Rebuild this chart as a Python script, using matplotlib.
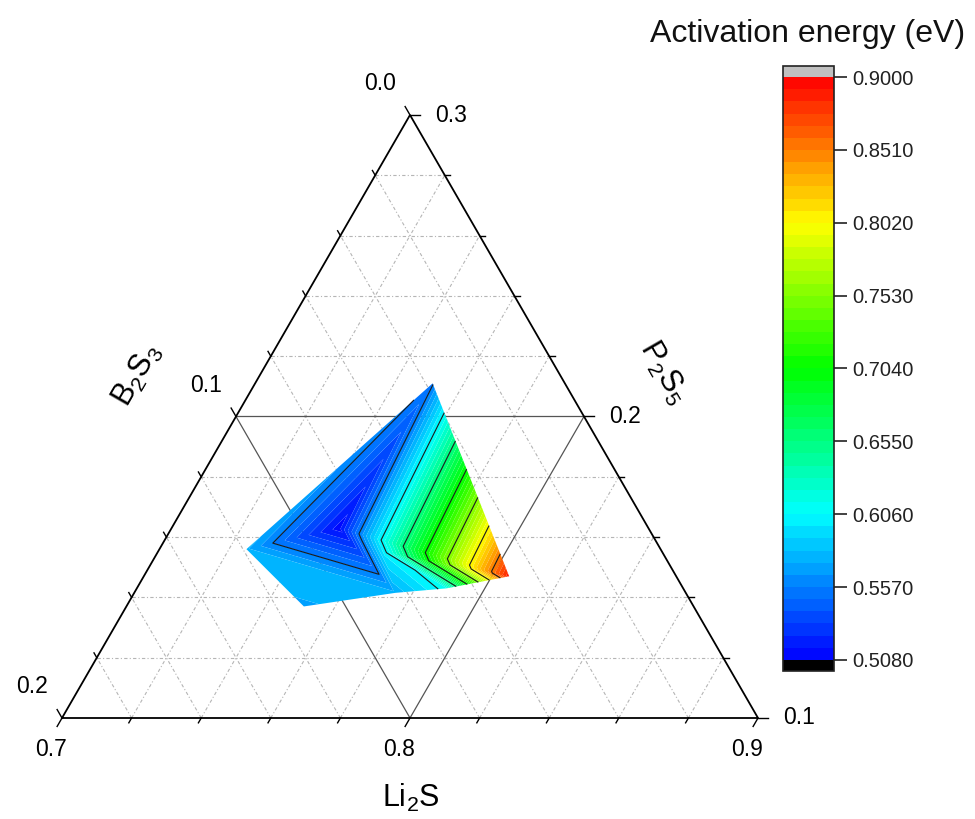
import numpy as np
import matplotlib
matplotlib.use("Agg")
import matplotlib.pyplot as plt
import matplotlib.tri as mtri
from matplotlib.colors import LinearSegmentedColormap

plt.rcParams['font.family'] = ['Liberation Sans', 'DejaVu Sans']
plt.rcParams['mathtext.fontset'] = 'custom'
plt.rcParams['mathtext.rm'] = 'Liberation Sans'
plt.rcParams['mathtext.it'] = 'Liberation Sans:italic'

# ---------------- data ----------------
li2s = [0.751, 0.725, 0.751, 0.775, 0.789, 0.805, 0.748, 0.765]
p2s5 = [0.211, 0.156, 0.137, 0.1415, 0.143, 0.147, 0.163, 0.155]
b2s3 = [round(1 - a - b, 4) for a, b in zip(li2s, p2s5)]
energy = [0.555, 0.575, 0.573, 0.575, 0.612, 0.890, 0.512, 0.600]
mesh = [(0, 1, 6), (0, 6, 5), (1, 6, 3), (1, 2, 3),
        (6, 3, 7), (7, 3, 4), (7, 4, 5), (6, 7, 5)]

li_ticks = [0.7, 0.8, 0.9]
b_ticks = [0.2, 0.1, 0.0]
p_ticks = [0.1, 0.2, 0.3]
cbar_ticks = [0.508, 0.557, 0.606, 0.655, 0.704, 0.753, 0.802, 0.851, 0.900]
vmin, vmax = 0.508, 0.900
n_bands = 48

H = np.sqrt(3) / 2


def to_xy(li, p):
    li = np.asarray(li, float)
    p = np.asarray(p, float)
    l = (li - 0.7) / 0.2
    pp = (p - 0.1) / 0.2
    return l + pp / 2, pp * H


W, Hpx = 975, 819
fig = plt.figure(figsize=(W / 100, Hpx / 100), dpi=100)
ax = fig.add_axes([62 / W, (Hpx - 718) / Hpx, 696 / W, 603 / Hpx])
ax.set_xlim(0, 1)
ax.set_ylim(0, H)
ax.axis('off')

# grid
for k in range(1, 10):
    f = k / 10
    solid = (k == 5)
    kw = dict(color='#555555', lw=0.9, zorder=1) if solid else \
        dict(color='#b5b5b5', lw=0.8, ls=(0, (3, 2, 1, 2)), zorder=1)
    ax.plot([f / 2, 1 - f / 2], [f * H, f * H], **kw)             # const P2S5
    ax.plot([f, f + (1 - f) / 2], [0, (1 - f) * H], **kw)         # const Li2S
    ax.plot([1 - f, (1 - f) / 2], [0, (1 - f) * H], **kw)         # const B2S3

# filled contour
cmap = LinearSegmentedColormap.from_list(
    'rainbow_origin', ['#0000ff', '#00ffff', '#00ff00', '#ffff00', '#ff0000'])
cmap.set_over('#c0c0c0')
cmap.set_under('#000000')
levels = np.linspace(vmin, vmax, n_bands + 1)
x, y = to_xy(li2s, p2s5)
tri = mtri.Triangulation(x, y, triangles=mesh)
cs = ax.tricontourf(tri, energy, levels=levels, cmap=cmap, extend='both',
                    zorder=2, antialiased=True)
ax.tricontour(tri, energy, levels=cbar_ticks[1:-1], colors='#1a1a1a',
              linewidths=0.8, zorder=3)

# frame
ax.plot([0, 1, 0.5, 0], [0, 0, H, 0], color='black', lw=1.3, zorder=5,
        clip_on=False, solid_joinstyle='miter')

# ticks
d_bot = np.array([-0.5, -H])
d_left = np.array([-0.5, H])
d_right = np.array([1.0, 0.0])
for k in range(0, 11):
    f = k / 10
    major = k in (0, 5, 10)
    ln = 0.014 if major else 0.008
    p0 = np.array([f, 0])
    p1 = p0 + d_bot * ln
    ax.plot([p0[0], p1[0]], [p0[1], p1[1]], color='black', lw=1.0,
            clip_on=False, zorder=5)
    p0 = np.array([(1 - f) / 2, (1 - f) * H])
    p1 = p0 + d_left * ln
    ax.plot([p0[0], p1[0]], [p0[1], p1[1]], color='black', lw=1.0,
            clip_on=False, zorder=5)
    p0 = np.array([1 - f / 2, f * H])
    p1 = p0 + d_right * ln
    ax.plot([p0[0], p1[0]], [p0[1], p1[1]], color='black', lw=1.0,
            clip_on=False, zorder=5)

tfs = 16.5
px = 1 / 696
for v in li_ticks:
    xx, yy = to_xy(v, 0.1)
    ax.text(xx - 11 * px, yy - 31 * px, f'{v:.1f}', ha='center', va='center',
            fontsize=tfs, clip_on=False)
for v in b_ticks:
    xx, yy = to_xy(0.7, 0.3 - v)
    ax.text(xx - 30 * px, yy + 31 * px, f'{v:.1f}', ha='center', va='center',
            fontsize=tfs, clip_on=False)
for v in p_ticks:
    xx, yy = to_xy(0.9 - (v - 0.1), v)
    ax.text(xx + 41 * px, yy, f'{v:.1f}', ha='center', va='center',
            fontsize=tfs, clip_on=False)

# axis titles
fig.text(411 / W, 1 - 798 / Hpx, r'Li$_2$S', ha='center', va='center', fontsize=22)
fig.text(137 / W, 1 - 375 / Hpx, r'B$_2$S$_3$', ha='center', va='center',
         fontsize=22, rotation=60, rotation_mode='anchor')
fig.text(663 / W, 1 - 372 / Hpx, r'P$_2$S$_5$', ha='center', va='center',
         fontsize=22, rotation=-60, rotation_mode='anchor')

# colorbar (axes box includes the rectangular extensions)
cax = fig.add_axes([783 / W, (Hpx - 671) / Hpx, 51 / W, 605 / Hpx])
cb = fig.colorbar(cs, cax=cax, ticks=cbar_ticks, extend='both',
                  extendfrac=0.019, extendrect=True, format='%.4f')
cb.outline.set_linewidth(1.2)
cb.outline.set_edgecolor('#222222')
cax.tick_params(labelsize=14.5, length=9, width=1.2, pad=4, colors='#222222',
                direction='out')
fig.text(808 / W, 1 - 34 / Hpx, 'Activation energy (eV)', ha='center',
         va='center', fontsize=23, color='#111111')

fig.savefig('out.png', dpi=100)
